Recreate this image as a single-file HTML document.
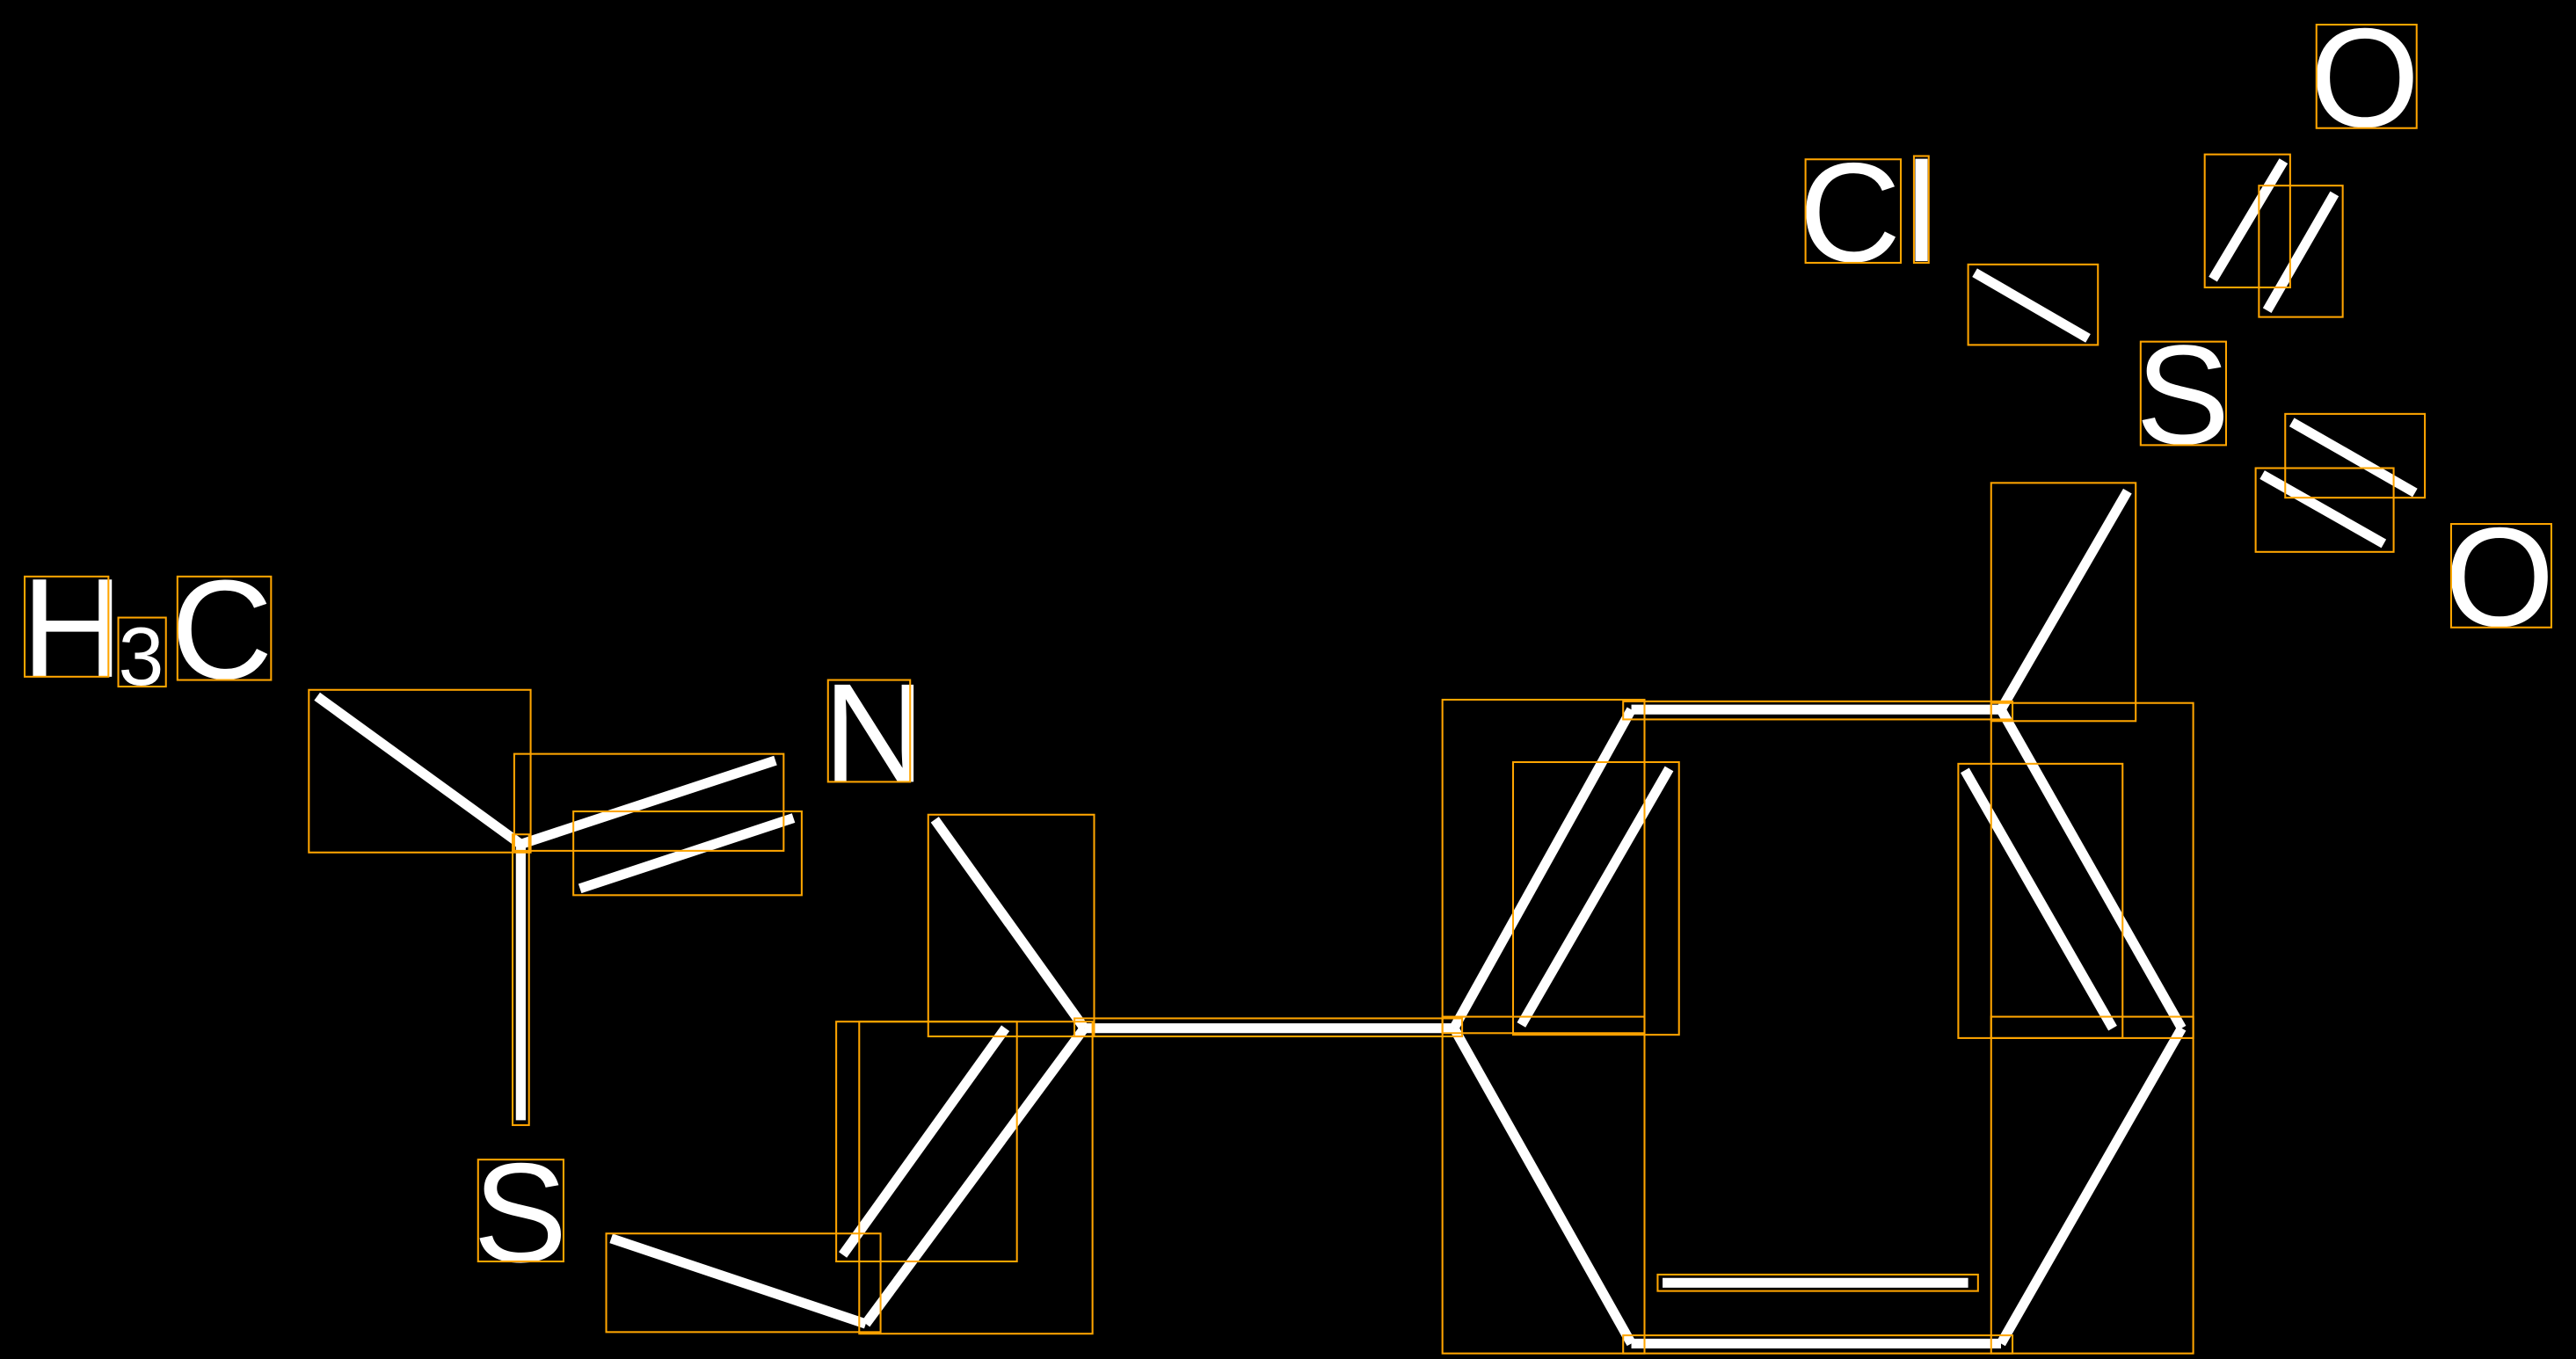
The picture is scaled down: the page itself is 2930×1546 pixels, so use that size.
<!DOCTYPE html>
<html><head><meta charset="utf-8"><style>
html,body{margin:0;padding:0;background:#000;}
svg{display:block;}
text{font-family:"Liberation Sans",sans-serif;fill:#fff;}
</style></head><body>
<svg width="2930" height="1546" viewBox="0 0 1568 827.4" preserveAspectRatio="none" xmlns="http://www.w3.org/2000/svg">
<rect x="0" y="0" width="1568" height="827.4" fill="#000"/>
<g stroke="#fff" stroke-width="6" fill="none" stroke-linecap="butt">
<line x1="193" y1="424" x2="317" y2="514"/>
<line x1="317" y1="514" x2="472" y2="463"/>
<line x1="353" y1="541" x2="483" y2="498"/>
<line x1="317" y1="514" x2="317" y2="682"/>
<line x1="372" y1="754" x2="527" y2="806"/>
<line x1="527" y1="806" x2="660" y2="626"/>
<line x1="513" y1="764" x2="612" y2="626"/>
<line x1="569" y1="499" x2="660" y2="626"/>
<line x1="660" y1="626" x2="885" y2="626"/>
<line x1="885" y1="626" x2="993" y2="432"/>
<line x1="926" y1="624" x2="1016" y2="468"/>
<line x1="993" y1="432" x2="1218" y2="432"/>
<line x1="1218" y1="432" x2="1328" y2="626"/>
<line x1="1196" y1="469" x2="1286" y2="626"/>
<line x1="1328" y1="626" x2="1218" y2="818"/>
<line x1="1218" y1="818" x2="993" y2="818"/>
<line x1="1012" y1="781" x2="1198" y2="781"/>
<line x1="993" y1="818" x2="885" y2="626"/>
<line x1="1218" y1="432" x2="1295" y2="299"/>
<line x1="1202" y1="166" x2="1271" y2="206"/>
<line x1="1347" y1="170" x2="1390" y2="98"/>
<line x1="1380" y1="189" x2="1421" y2="118"/>
<line x1="1395" y1="257" x2="1470" y2="300"/>
<line x1="1377" y1="289" x2="1451" y2="331"/>
</g>
<g font-size="86">
<text x="13" y="412">H</text>
<text x="72" y="417" font-size="50">3</text>
<text x="104" y="413">C</text>
<text x="501" y="476">N</text>
<text x="288" y="768">S</text>
<text x="1095" y="159">C</text>
<text x="1160" y="159">l</text>
<text x="1300" y="270">S</text>
<text x="1406" y="77">O</text>
<text x="1488" y="381">O</text>
</g>
<g stroke="#ffa500" stroke-width="1.1" fill="none">
<rect x="15" y="351" width="51" height="61"/>
<rect x="72" y="376" width="29" height="42"/>
<rect x="108" y="351" width="57" height="63"/>
<rect x="504" y="414" width="50" height="62"/>
<rect x="291" y="706" width="52" height="62"/>
<rect x="1099" y="97" width="58" height="63"/>
<rect x="1165" y="95" width="9" height="65"/>
<rect x="1303" y="208" width="52" height="63"/>
<rect x="1410" y="15" width="61" height="63"/>
<rect x="1492" y="319" width="61" height="63"/>
<rect x="188" y="420" width="135" height="99"/>
<rect x="313" y="459" width="164" height="59"/>
<rect x="349" y="494" width="139" height="51"/>
<rect x="312" y="508" width="10" height="177"/>
<rect x="369" y="751" width="167" height="60"/>
<rect x="523" y="622" width="142" height="190"/>
<rect x="509" y="622" width="110" height="146"/>
<rect x="565" y="496" width="101" height="135"/>
<rect x="654" y="620" width="236" height="11"/>
<rect x="878" y="426" width="123" height="203"/>
<rect x="921" y="464" width="101" height="166"/>
<rect x="878" y="619" width="123" height="205"/>
<rect x="988" y="427" width="237" height="11"/>
<rect x="1212" y="294" width="88" height="145"/>
<rect x="1212" y="428" width="123" height="204"/>
<rect x="1192" y="465" width="100" height="167"/>
<rect x="1212" y="619" width="123" height="205"/>
<rect x="988" y="813" width="237" height="11"/>
<rect x="1009" y="776" width="195" height="10"/>
<rect x="1198" y="161" width="79" height="49"/>
<rect x="1342" y="94" width="52" height="81"/>
<rect x="1375" y="113" width="51" height="80"/>
<rect x="1391" y="252" width="85" height="51"/>
<rect x="1373" y="285" width="84" height="51"/>
</g>
</svg>
</body></html>
